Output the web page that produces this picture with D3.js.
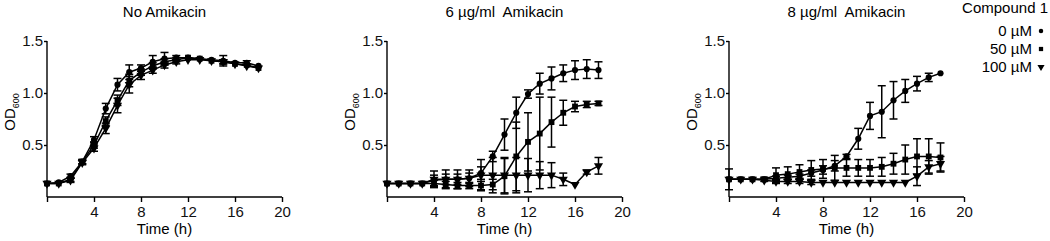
<!DOCTYPE html>
<html>
<head>
<meta charset="utf-8">
<script src="https://cdn.jsdelivr.net/npm/d3@7"></script>
<style>
  body { margin: 0; background: #fff; }
  svg { font-family: "Liberation Sans", Arial, sans-serif; }
  svg text { white-space: pre; }
</style>
</head>
<body>
<div id="chart_div"></div>
<script>
const hours = [0, 1, 2, 3, 4, 5, 6, 7, 8, 9, 10, 11, 12, 13, 14, 15, 16, 17, 18];
const xTicks = [0, 4, 8, 12, 16, 20];
const yTicks = [0.5, 1.0, 1.5];
const panelTitles = ["No Amikacin", "6 \u00b5g/ml  Amikacin", "8 \u00b5g/ml  Amikacin"];
const legendLabels = ["0 \u00b5M", "50 \u00b5M", "100 \u00b5M"];

// No Amikacin
const p1Circle = [0.13, 0.14, 0.20, 0.34, 0.55, 0.85, 1.08, 1.20, 1.24, 1.30, 1.33, 1.34, 1.34, 1.33, 1.32, 1.31, 1.29, 1.29, 1.26];
const p1CircleErr = [0.01, 0.01, 0.02, 0.02, 0.03, 0.05, 0.06, 0.07, 0.03, 0.06, 0.06, 0.02, 0.01, 0.01, 0.01, 0.05, 0.01, 0.02, 0.01];
const p1Square = [0.13, 0.13, 0.17, 0.34, 0.50, 0.73, 0.93, 1.12, 1.20, 1.26, 1.30, 1.32, 1.34, 1.33, 1.31, 1.30, 1.28, 1.27, 1.24];
const p1SquareErr = [0.01, 0.01, 0.02, 0.02, 0.03, 0.04, 0.05, 0.06, 0.03, 0.03, 0.03, 0.02, 0.01, 0.01, 0.01, 0.02, 0.01, 0.01, 0.01];
const p1Tri = [0.13, 0.13, 0.16, 0.33, 0.47, 0.66, 0.88, 1.08, 1.17, 1.22, 1.27, 1.30, 1.32, 1.32, 1.31, 1.30, 1.28, 1.26, 1.24];
const p1TriErr = [0.01, 0.01, 0.02, 0.02, 0.03, 0.05, 0.07, 0.08, 0.04, 0.03, 0.03, 0.02, 0.01, 0.01, 0.01, 0.02, 0.01, 0.01, 0.01];

// 6 ug/ml Amikacin
const p2Circle = [0.13, 0.13, 0.13, 0.13, 0.16, 0.17, 0.17, 0.18, 0.23, 0.39, 0.60, 0.81, 0.99, 1.09, 1.14, 1.19, 1.22, 1.23, 1.22];
const p2CircleErr = [0.01, 0.01, 0.01, 0.01, 0.05, 0.05, 0.05, 0.05, 0.06, 0.05, 0.15, 0.15, 0.04, 0.10, 0.11, 0.08, 0.09, 0.09, 0.08];
const p2Square = [0.13, 0.13, 0.13, 0.13, 0.13, 0.12, 0.11, 0.11, 0.11, 0.12, 0.20, 0.39, 0.53, 0.61, 0.72, 0.81, 0.87, 0.89, 0.90];
const p2SquareErr = [0.01, 0.01, 0.01, 0.01, 0.03, 0.03, 0.03, 0.03, 0.04, 0.05, 0.17, 0.33, 0.28, 0.35, 0.24, 0.12, 0.05, 0.03, 0.02];
const p2Tri = [0.13, 0.13, 0.13, 0.13, 0.17, 0.17, 0.17, 0.18, 0.21, 0.21, 0.21, 0.21, 0.21, 0.21, 0.21, 0.17, 0.12, 0.24, 0.30];
const p2TriErr = [0.01, 0.01, 0.01, 0.01, 0.08, 0.09, 0.09, 0.08, 0.15, 0.17, 0.17, 0.17, 0.16, 0.13, 0.12, 0.06, 0.01, 0.02, 0.08];

// 8 ug/ml Amikacin
const p3Circle = [0.17, 0.17, 0.17, 0.17, 0.18, 0.19, 0.20, 0.23, 0.26, 0.30, 0.39, 0.56, 0.78, 0.82, 0.93, 1.02, 1.09, 1.15, 1.19];
const p3CircleErr = [0.01, 0.01, 0.01, 0.01, 0.02, 0.02, 0.02, 0.03, 0.04, 0.05, 0.02, 0.10, 0.13, 0.25, 0.18, 0.11, 0.07, 0.04, 0.01];
const p3Square = [0.17, 0.17, 0.17, 0.17, 0.21, 0.22, 0.24, 0.26, 0.27, 0.28, 0.28, 0.28, 0.28, 0.29, 0.32, 0.36, 0.39, 0.39, 0.38];
const p3SquareErr = [0.01, 0.01, 0.01, 0.02, 0.07, 0.07, 0.07, 0.09, 0.09, 0.12, 0.08, 0.08, 0.08, 0.09, 0.10, 0.14, 0.17, 0.17, 0.14];
const p3Tri = [0.17, 0.17, 0.17, 0.16, 0.15, 0.15, 0.15, 0.14, 0.14, 0.14, 0.14, 0.14, 0.14, 0.14, 0.14, 0.14, 0.20, 0.29, 0.32];
const p3TriErr = [0.10, 0.01, 0.01, 0.01, 0.02, 0.02, 0.02, 0.02, 0.01, 0.01, 0.01, 0.01, 0.01, 0.01, 0.01, 0.01, 0.09, 0.06, 0.07];

const panels = [
    [[p1Circle, p1CircleErr], [p1Square, p1SquareErr], [p1Tri, p1TriErr]],
    [[p2Circle, p2CircleErr], [p2Square, p2SquareErr], [p2Tri, p2TriErr]],
    [[p3Circle, p3CircleErr], [p3Square, p3SquareErr], [p3Tri, p3TriErr]],
];

const width = 1050;
const height = 241;
const panelLeft = [47, 387, 729];
const plotWidth = 235;
const plotTop = 41;
const plotBottom = 197;

const symbols = [
    d3.symbol().type(d3.symbolCircle).size(30),
    d3.symbol().type(d3.symbolSquare).size(34),
    d3.symbol().type(d3.symbolTriangle).size(36),
];
const legendSymbols = [
    d3.symbol().type(d3.symbolCircle).size(16),
    d3.symbol().type(d3.symbolSquare).size(18),
    d3.symbol().type(d3.symbolTriangle).size(22),
];

const svg = d3.select("#chart_div")
    .append("svg")
    .attr("width", width)
    .attr("height", height);

const y = d3.scaleLinear().domain([0, 1.5]).range([plotBottom, plotTop]);

panels.forEach((series, pi) => {
    const left = panelLeft[pi];
    const x = d3.scaleLinear().domain([0, 20]).range([left, left + plotWidth]);
    const g = svg.append("g");

    // Axes
    const xAxis = g.append("g")
        .attr("transform", `translate(0,${plotBottom})`)
        .call(d3.axisBottom(x).tickValues(xTicks).tickSize(5).tickPadding(4)
            .tickFormat(d => d === 0 ? "" : d3.format("d")(d)));
    const yAxis = g.append("g")
        .attr("transform", `translate(${left},0)`)
        .call(d3.axisLeft(y).tickValues(yTicks).tickSize(3).tickPadding(1)
            .tickFormat(d3.format(".1f")));
    [xAxis, yAxis].forEach(a => {
        a.select(".domain").attr("stroke-width", 1.4);
        a.selectAll(".tick line").attr("stroke-width", 1.4);
        a.selectAll("text").attr("font-size", 15).attr("fill", "#111")
            .attr("font-family", "Liberation Sans, Arial, sans-serif");
    });
    xAxis.select(".domain").attr("d", `M${left},0H${left + plotWidth}`);
    yAxis.select(".domain").attr("d", `M0,${plotTop}V${plotBottom}`);

    // Titles
    g.append("text")
        .attr("x", left + plotWidth / 2)
        .attr("y", 17)
        .attr("text-anchor", "middle")
        .attr("font-size", 15)
        .text(panelTitles[pi]);

    g.append("text")
        .attr("x", left + plotWidth / 2)
        .attr("y", 234)
        .attr("text-anchor", "middle")
        .attr("font-size", 15)
        .text("Time (h)");

    const yt = g.append("text")
        .attr("transform", `translate(${left - 32},${112}) rotate(-90)`)
        .attr("text-anchor", "middle")
        .attr("font-size", 15);
    yt.append("tspan").text("OD");
    yt.append("tspan").attr("font-size", 9).attr("dy", 4).text("600");

    // Series
    series.forEach(([vals, errs], si) => {
        const pts = hours.map((h, i) => ({ h, v: vals[i], e: errs[i] }));
        const sg = g.append("g");

        sg.append("path")
            .datum(pts)
            .attr("fill", "none")
            .attr("stroke", "#000")
            .attr("stroke-width", 1.5)
            .attr("d", d3.line().x(d => x(d.h)).y(d => y(d.v)));

        const eb = sg.selectAll(".err").data(pts.filter(d => d.e > 0.015)).enter().append("g");
        eb.append("line")
            .attr("x1", d => x(d.h)).attr("x2", d => x(d.h))
            .attr("y1", d => y(d.v + d.e)).attr("y2", d => y(Math.max(0, d.v - d.e)))
            .attr("stroke", "#000").attr("stroke-width", 1.5);
        [1, -1].forEach(s => {
            eb.append("line")
                .attr("x1", d => x(d.h) - 4).attr("x2", d => x(d.h) + 4)
                .attr("y1", d => y(Math.max(0, d.v + s * d.e))).attr("y2", d => y(Math.max(0, d.v + s * d.e)))
                .attr("stroke", "#000").attr("stroke-width", 1.5);
        });

        sg.selectAll(".pt").data(pts).enter().append("path")
            .attr("d", symbols[si])
            .attr("transform", d => `translate(${x(d.h)},${y(d.v)})${si === 2 ? " rotate(180)" : ""}`)
            .attr("fill", "#000");
    });
});

// Legend
const legend = svg.append("g");
legend.append("text")
    .attr("x", 1048)
    .attr("y", 13)
    .attr("text-anchor", "end")
    .attr("font-size", 15)
    .text("Compound 1");

const legendY = d3.scalePoint().domain(legendLabels).range([31, 67]);
legendLabels.forEach((lab, i) => {
    legend.append("text")
        .attr("x", 1032)
        .attr("y", legendY(lab) + 5)
        .attr("text-anchor", "end")
        .attr("font-size", 15)
        .text(lab);
    legend.append("path")
        .attr("d", legendSymbols[i])
        .attr("transform", `translate(1041,${legendY(lab)})${i === 2 ? " rotate(180)" : ""}`)
        .attr("fill", "#000");
});
</script>
</body>
</html>
